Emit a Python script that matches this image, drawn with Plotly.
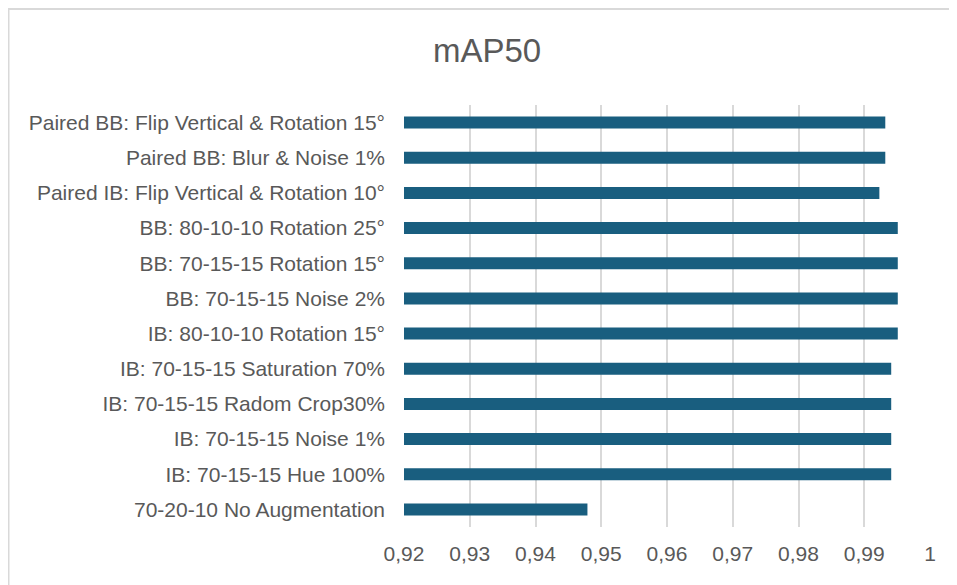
import plotly.graph_objects as go

categories = [
    "Paired BB: Flip Vertical & Rotation 15°",
    "Paired BB: Blur & Noise 1%",
    "Paired IB: Flip Vertical & Rotation 10°",
    "BB: 80-10-10 Rotation 25°",
    "BB: 70-15-15 Rotation 15°",
    "BB: 70-15-15 Noise 2%",
    "IB: 80-10-10 Rotation 15°",
    "IB: 70-15-15 Saturation 70%",
    "IB: 70-15-15 Radom Crop30%",
    "IB: 70-15-15 Noise 1%",
    "IB: 70-15-15 Hue 100%",
    "70-20-10 No Augmentation",
]
values = [0.9932, 0.9932, 0.9923, 0.9951, 0.9951, 0.9951, 0.9951,
          0.9941, 0.9941, 0.9941, 0.9941, 0.9479]
tick_vals = [0.92, 0.93, 0.94, 0.95, 0.96, 0.97, 0.98, 0.99, 1.0]
tick_text = ["0,92", "0,93", "0,94", "0,95", "0,96", "0,97", "0,98", "0,99", "1"]

FONT = "Liberation Sans, Arial, sans-serif"

fig = go.Figure(go.Bar(
    y=categories, x=values, orientation="h",
    marker=dict(color="#195e7f", line=dict(width=0)),
))

OFF = 8  # page body margin
W, H = 957 - OFF, 585 - OFF
ml, mr, mt, mb = 404 - OFF, 27, 105 - OFF, 58
fig.update_layout(
    width=W, height=H,
    margin=dict(l=ml, r=mr, t=mt, b=mb),
    paper_bgcolor="white", plot_bgcolor="white",
    bargap=0.66,
    showlegend=False,
    title=dict(text="mAP50", x=(487 - OFF) / W, xanchor="center",
               y=1 - (50 - OFF) / H, yanchor="middle",
               font=dict(family=FONT, size=33, color="#595959")),
    xaxis=dict(range=[0.92, 1.0], tickvals=tick_vals, ticktext=tick_text,
               showgrid=True, gridcolor="#d9d9d9", gridwidth=1.5,
               zeroline=False, showline=False, ticks="",
               tickfont=dict(family=FONT, size=21, color="#595959"),
               ticklabelstandoff=12),
    yaxis=dict(autorange="reversed", showgrid=False, zeroline=False,
               showline=False, ticks="",
               tickfont=dict(family=FONT, size=21, color="#595959"),
               ticklabelstandoff=18),
)

# chart border
pw = W - ml - mr
ph = H - mt - mb
x0 = (0.5 - ml) / pw
x1 = (W + 5 - ml) / pw
y1 = 1 + (mt - 1) / ph
y0 = -(mb + 5) / ph
fig.add_shape(type="rect", xref="paper", yref="paper",
              x0=x0, x1=x1, y0=y0, y1=y1,
              line=dict(color="#d9d9d9", width=2), layer="below")

fig.write_html("out.html")
